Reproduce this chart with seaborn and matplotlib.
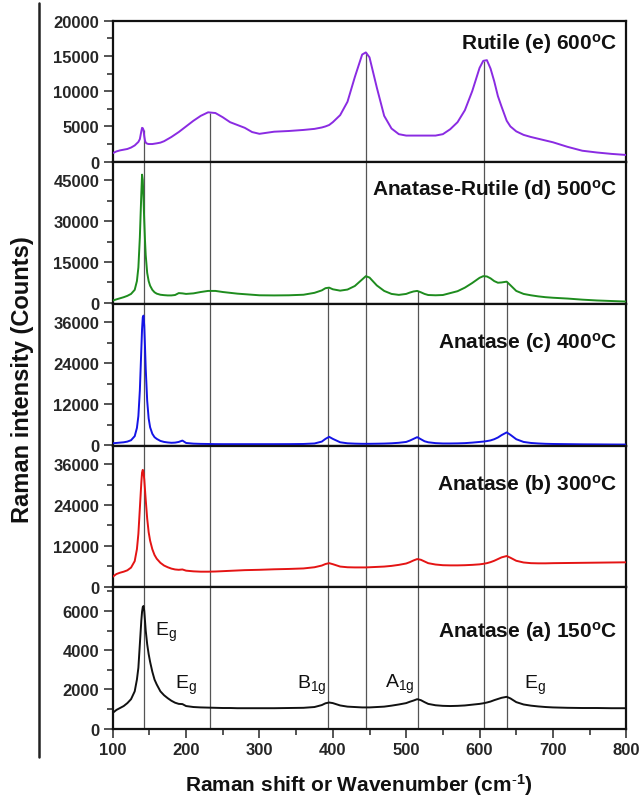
import numpy as np
import pandas as pd
import matplotlib
matplotlib.use("Agg")
import matplotlib.pyplot as plt
from matplotlib.lines import Line2D
from matplotlib.ticker import MultipleLocator
import seaborn as sns

# ---------------- data ----------------
wavenumber = [100, 105, 110, 115, 120, 125, 130, 133, 135, 137,
              139, 140, 141, 142, 143, 144, 145, 147, 149, 151,
              154, 157, 160, 165, 170, 175, 180, 185, 190, 195,
              200, 210, 220, 230, 240, 250, 260, 270, 280, 290,
              300, 320, 340, 360, 375, 385, 390, 395, 400, 410,
              420, 430, 440, 445, 450, 460, 470, 480, 490, 500,
              505, 510, 515, 520, 525, 530, 540, 550, 560, 570,
              580, 590, 600, 605, 610, 615, 620, 625, 630, 637,
              642, 650, 660, 670, 680, 690, 700, 720, 740, 760, 780, 800]

int_150 = [800, 950, 1050, 1150, 1300, 1500, 1900, 2500, 3100, 4300,
           5500, 5950, 6200, 6250, 6000, 5500, 5000, 4300, 3800, 3400,
           2900, 2500, 2250, 1900, 1700, 1550, 1420, 1320, 1260, 1250,
           1150, 1100, 1080, 1070, 1060, 1050, 1050, 1040, 1040, 1040,
           1040, 1040, 1050, 1060, 1100, 1200, 1290, 1330, 1300, 1180,
           1120, 1100, 1080, 1080, 1080, 1100, 1120, 1170, 1230, 1300,
           1370, 1430, 1500, 1450, 1350, 1260, 1190, 1160, 1150, 1160,
           1180, 1220, 1260, 1290, 1330, 1380, 1450, 1510, 1570, 1620,
           1540, 1350, 1230, 1170, 1130, 1100, 1080, 1060, 1050, 1050, 1040, 1040]

int_300 = [2900, 3700, 4100, 4400, 4800, 5600, 7500, 11000, 15500, 23000,
           30500, 33500, 34300, 33500, 31500, 28500, 25500, 20000, 16000, 13500,
           11000, 9300, 8200, 7000, 6200, 5700, 5300, 5050, 4950, 5050,
           4700, 4500, 4400, 4400, 4450, 4550, 4650, 4750, 4850, 4900,
           4950, 5100, 5200, 5350, 5700, 6200, 6650, 6900, 6600, 5900,
           5700, 5650, 5650, 5650, 5700, 5800, 5900, 6100, 6400, 6800,
           7200, 7700, 8100, 7900, 7400, 6900, 6500, 6300, 6250, 6250,
           6300, 6400, 6550, 6700, 6900, 7200, 7600, 8100, 8600, 9000,
           8500, 7600, 7100, 6900, 6850, 6850, 6900, 6950, 7000, 7050, 7100, 7150]

int_400 = [500, 600, 700, 800, 1000, 1400, 2600, 5000, 8500, 16000,
           28000, 34000, 37500, 38000, 35000, 29000, 22500, 13000, 7800, 5200,
           3300, 2300, 1800, 1200, 900, 750, 650, 700, 900, 1300,
           600, 400, 330, 300, 260, 250, 250, 250, 250, 250,
           250, 250, 260, 300, 450, 1000, 1800, 2400, 1800, 800,
           500, 400, 350, 350, 350, 380, 420, 500, 650, 900,
           1300, 1800, 2300, 1700, 1100, 800, 550, 450, 450, 480,
           550, 700, 900, 1000, 1150, 1350, 1700, 2200, 2900, 3700,
           3000, 1700, 900, 600, 450, 350, 300, 250, 200, 180, 150, 130]

int_500 = [850, 1300, 1700, 2100, 2600, 3300, 4800, 8000, 13000, 24000,
           40000, 47000, 45000, 38000, 30000, 23000, 17500, 11000, 8000, 6300,
           4800, 3900, 3400, 3000, 2850, 2750, 2750, 2900, 3600, 3500,
           3300, 3500, 4000, 4400, 4400, 4000, 3700, 3400, 3200, 3000,
           2800, 2750, 2800, 3000, 3700, 4600, 5400, 5600, 5000, 4500,
           4900, 6200, 8600, 9800, 9300, 6400, 4400, 3300, 2950, 3300,
           3800, 4200, 4400, 3900, 3300, 2900, 2800, 2900, 3600, 4300,
           5600, 7300, 9200, 9800, 9700, 9000, 8000, 7400, 7500, 7800,
           6500, 4400, 3300, 2800, 2400, 2100, 1900, 1600, 1200, 900, 700, 500]

int_600 = [1200, 1450, 1600, 1700, 1800, 2000, 2300, 2600, 2800, 3200,
           4300, 4800, 4750, 4500, 3600, 3000, 2700, 2550, 2500, 2500,
           2500, 2550, 2600, 2700, 2900, 3200, 3500, 3850, 4200, 4600,
           5000, 5800, 6500, 7000, 6900, 6300, 5600, 5200, 4800, 4200,
           3950, 4250, 4350, 4500, 4650, 4850, 5000, 5200, 5600, 6600,
           8500, 12000, 15200, 15500, 14800, 10500, 6500, 4700, 3900, 3700,
           3700, 3700, 3700, 3700, 3700, 3700, 3700, 3900, 4600, 5600,
           7300, 10000, 13300, 14300, 14400, 13200, 11400, 9300, 7800, 5800,
           5000, 4300, 3800, 3500, 3250, 3000, 2750, 2100, 1550, 1300, 1100, 950]

panel_labels = [r"Rutile (e) 600$^{\mathbf{o}}$C",
                r"Anatase-Rutile (d) 500$^{\mathbf{o}}$C",
                r"Anatase (c) 400$^{\mathbf{o}}$C",
                r"Anatase (b) 300$^{\mathbf{o}}$C",
                r"Anatase (a) 150$^{\mathbf{o}}$C"]

# reference Raman modes (vertical guide lines)
modes_rutile = [142, 233, 445, 606]
modes_anatase = [394, 516, 637]

mode_names = [r"E$_\mathregular{g}$", r"E$_\mathregular{g}$", r"B$_\mathregular{1g}$",
              r"A$_\mathregular{1g}$", r"E$_\mathregular{g}$"]
mode_name_x = [157, 185, 351, 471, 660]
mode_name_y = [4750, 2050, 2050, 2100, 2050]

xlabel = r"Raman shift or Wavenumber (cm$^{\mathbf{\text{-}1}}$)"
ylabel = "Raman intensity (Counts)"

# ---------------- style ----------------
sns.set_theme(style="ticks")
plt.rcParams["font.family"] = ["Liberation Sans", "DejaVu Sans"]
plt.rcParams["mathtext.fontset"] = "custom"
plt.rcParams["mathtext.rm"] = "Liberation Sans"
plt.rcParams["mathtext.bf"] = "Liberation Sans:bold"
plt.rcParams["mathtext.it"] = "Liberation Sans:italic"

series = [int_600, int_500, int_400, int_300, int_150]
colors = ["#8a2be2", "#1e8c1e", "#1414e6", "#e41414", "#111111"]
ylims = [(-100, 20000), (-400, 51500), (-200, 41400), (-200, 41400), (-20, 7200)]
majors = [5000, 15000, 12000, 12000, 2000]
label_y = [0.843, 0.81, 0.73, 0.73, 0.69]

W, H = 643, 803
fig = plt.figure(figsize=(W / 100, H / 100), dpi=100)
left, right = 112.7 / W, 626.3 / W
top, bottom = 1 - 21.7 / H, 1 - 730 / H
h = (top - bottom) / 5

x = np.array(wavenumber, dtype=float)
for i in range(5):
    ax = fig.add_axes([left, top - (i + 1) * h, right - left, h])
    y = np.array(series[i], dtype=float)
    ylo, yhi = ylims[i]

    # guide lines
    if i >= 2:
        ax.vlines(modes_rutile + modes_anatase, ylo, yhi, color="#555555", lw=0.9, zorder=1)
    elif i == 1:
        ax.vlines(modes_rutile, ylo, yhi, color="#555555", lw=0.9, zorder=1)
        ax.vlines(modes_anatase, ylo, np.interp(modes_anatase, x, y), color="#555555", lw=0.9, zorder=1)
    else:
        ax.vlines(modes_rutile, ylo, np.interp(modes_rutile, x, y), color="#555555", lw=0.9, zorder=1)

    df = pd.DataFrame({"x": wavenumber, "y": series[i]})
    sns.lineplot(data=df, x="x", y="y", ax=ax, color=colors[i], lw=1.4,
                 estimator=None, sort=False, legend=False, zorder=3)

    ax.set_xlim(100, 800)
    ax.set_ylim(ylo, yhi)
    ax.yaxis.set_major_locator(MultipleLocator(majors[i]))
    ax.yaxis.set_minor_locator(MultipleLocator(majors[i] / 2))
    ax.xaxis.set_major_locator(MultipleLocator(100))
    ax.xaxis.set_minor_locator(MultipleLocator(50))
    ax.tick_params(which="major", direction="out", length=6.7, width=1.1,
                   labelsize=12, pad=3, top=False, right=False)
    ax.tick_params(which="minor", direction="out", length=4.2, width=1.1,
                   top=False, right=False)
    for lab in ax.get_yticklabels() + ax.get_xticklabels():
        lab.set_fontweight("bold")
    if i < 4:
        ax.tick_params(axis="x", labelbottom=False)
    ax.set_xlabel("")
    ax.set_ylabel("")
    for s in ax.spines.values():
        s.set_visible(True)
        s.set_linewidth(1.6)
        s.set_color("#111111")
    ax.text(0.983, label_y[i], panel_labels[i], transform=ax.transAxes,
            ha="right", va="center", fontsize=15, fontweight="bold", color="#111111")
    if i == 4:
        for nm, nx, ny in zip(mode_names, mode_name_x, mode_name_y):
            ax.text(nx, ny, nm, ha="left", va="baseline", fontsize=14, color="#111111")

fig.text(359 / W, 1 - 785 / H, xlabel, ha="center", va="center",
         fontsize=15, fontweight="bold", color="#111111")
fig.text(23 / W, 1 - 380 / H, ylabel, rotation=90, ha="center", va="center",
         fontsize=17, fontweight="bold", color="#111111")
fig.add_artist(Line2D([38.5 / W, 38.5 / W], [1 - 4 / H, 1 - 758 / H],
                      transform=fig.transFigure, lw=1.8, color="#222222"))

fig.savefig("out.png", dpi=100)
